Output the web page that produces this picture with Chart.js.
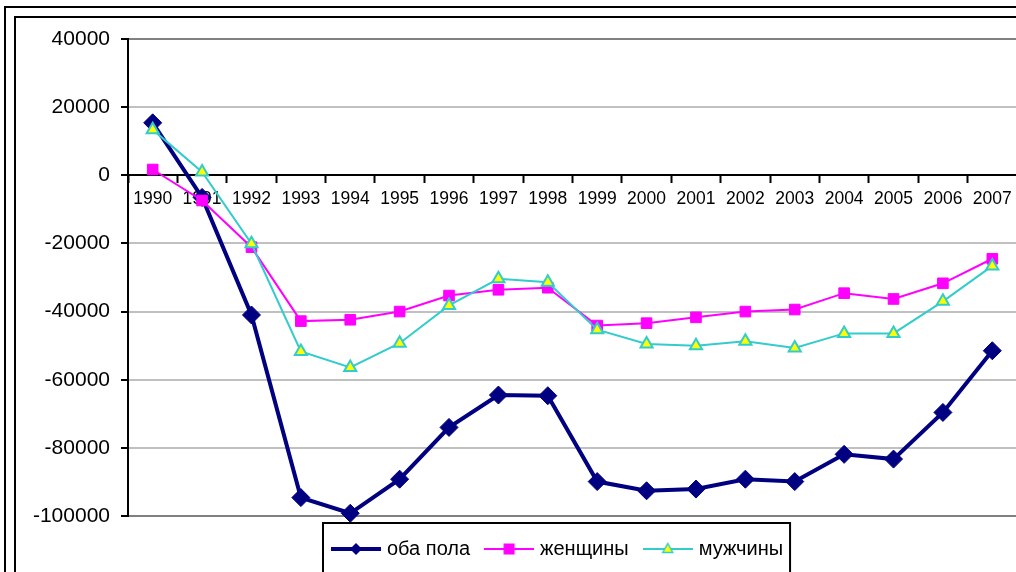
<!DOCTYPE html>
<html>
<head>
<meta charset="utf-8">
<script src="https://cdn.jsdelivr.net/npm/chart.js@4.4.0/dist/chart.umd.min.js"></script>
<style>
    html, body { margin: 0; padding: 0; background: #fff; overflow: hidden; }
    #wrap { position: relative; width: 1016px; height: 572px; overflow: hidden; }
    #chart { position: absolute; left: 0; top: 0; }
</style>
</head>
<body>
<div id="wrap"><canvas id="chart" width="1040" height="600"></canvas></div>
<script>
// data
const years = ['1990', '1991', '1992', '1993', '1994', '1995', '1996', '1997', '1998',
               '1999', '2000', '2001', '2002', '2003', '2004', '2005', '2006', '2007'];
const bothSexes = [15400, -6500, -41000, -94600, -99200, -89200, -74000, -64500, -64700,
                   -89900, -92600, -92100, -89200, -89900, -81900, -83300, -69600, -51500];
const women = [1700, -7400, -21100, -42800, -42400, -40000, -35300, -33600, -33000,
               -44100, -43400, -41700, -40000, -39400, -34600, -36300, -31700, -24500];
const men = [13400, 1000, -20100, -51700, -56400, -49300, -38200, -30400, -31400,
             -45300, -49500, -50000, -48700, -50700, -46400, -46400, -37000, -26600];
const seriesNames = ['оба пола', 'женщины', 'мужчины'];
const yTicks = [-100000, -80000, -60000, -40000, -20000, 0, 20000, 40000];

const FONT = "'Liberation Sans', Arial, sans-serif";
Chart.defaults.font.family = FONT;
Chart.defaults.color = '#000';

// small canvases used as legend symbols (line with marker in the middle)
function legendIcon(lineColor, lineWidth, drawMarker) {
    const c = document.createElement('canvas');
    c.width = 50;
    c.height = 20;
    const g = c.getContext('2d');
    g.strokeStyle = lineColor;
    g.lineWidth = lineWidth;
    g.beginPath();
    g.moveTo(0, 10);
    g.lineTo(50, 10);
    g.stroke();
    drawMarker(g, 25, 10);
    return c;
}

const icons = [
    legendIcon('#000080', 4, (g, x, y) => {
        g.fillStyle = '#000080';
        g.beginPath();
        g.moveTo(x - 6, y); g.lineTo(x, y - 6); g.lineTo(x + 6, y); g.lineTo(x, y + 6);
        g.closePath();
        g.fill();
    }),
    legendIcon('#ff00ff', 2, (g, x, y) => {
        g.fillStyle = '#ff00ff';
        g.fillRect(x - 5.5, y - 5.5, 11, 11);
    }),
    legendIcon('#33cccc', 2, (g, x, y) => {
        g.fillStyle = '#ffff00';
        g.strokeStyle = '#33cccc';
        g.lineWidth = 1.5;
        g.beginPath();
        g.moveTo(x, y - 5.5); g.lineTo(x + 5, y + 3.5); g.lineTo(x - 5, y + 3.5);
        g.closePath();
        g.fill();
        g.stroke();
    })
];

// double frame around the chart (cut off at right and bottom like the picture)
const framePlugin = {
    id: 'frame',
    beforeDraw(chart) {
        const ctx = chart.ctx;
        ctx.save();
        ctx.fillStyle = '#fff';
        ctx.fillRect(0, 0, chart.width, chart.height);
        ctx.strokeStyle = '#000';
        ctx.lineWidth = 2;
        ctx.strokeRect(5, 7, chart.width + 50, chart.height + 50);
        ctx.strokeRect(15, 17, chart.width + 50, chart.height + 50);
        ctx.restore();
    }
};

// move the legend to where it sits in the picture and draw its box
const legendLeft = 335;
const legendTextY = 549;
const legendPlugin = {
    id: 'legendPlace',
    afterLayout(chart) {
        const lg = chart.legend;
        const pad = lg.options.labels.padding;
        const x0 = (lg.left + pad + lg.right - lg.lineWidths[0]) / 2;
        const dx = legendLeft - x0;
        const dy = legendTextY - (lg.top + pad + lg.options.labels.font.size / 2);
        lg.left += dx; lg.right += dx;
        lg.top += dy; lg.bottom += dy;
    },
    afterDraw(chart) {
        const hb = chart.legend.legendHitBoxes;
        if (!hb || !hb.length) return;
        const first = hb[0];
        const last = hb[hb.length - 1];
        const ctx = chart.ctx;
        ctx.save();
        ctx.strokeStyle = '#000';
        ctx.lineWidth = 2;
        const x1 = first.left - 12;
        const x2 = last.left + last.width + 7;
        ctx.strokeRect(x1, first.top - 16, x2 - x1, 60);
        ctx.restore();
    }
};

const ctx = document.getElementById('chart').getContext('2d');
new Chart(ctx, {
    type: 'line',
    data: {
        labels: years,
        datasets: [{
            label: seriesNames[0],
            data: bothSexes,
            borderColor: '#000080',
            backgroundColor: '#000080',
            borderWidth: 4,
            pointStyle: 'rectRot',
            pointRadius: 9,
            pointBorderWidth: 1,
            order: 3
        }, {
            label: seriesNames[1],
            data: women,
            borderColor: '#ff00ff',
            backgroundColor: '#ff00ff',
            borderWidth: 2,
            pointStyle: 'rect',
            pointRadius: 7.5,
            pointBorderWidth: 1,
            order: 2
        }, {
            label: seriesNames[2],
            data: men,
            borderColor: '#33cccc',
            backgroundColor: '#ffff00',
            pointBorderColor: '#33cccc',
            borderWidth: 2,
            pointStyle: 'triangle',
            pointRadius: 7,
            pointBorderWidth: 2,
            order: 1
        }]
    },
    options: {
        responsive: false,
        animation: false,
        clip: false,
        layout: {
            padding: { left: 0, right: 23, top: 39, bottom: 36 }
        },
        elements: {
            line: { tension: 0 }
        },
        scales: {
            x: {
                type: 'category',
                position: { y: 0 },
                offset: true,
                grid: {
                    offset: true,
                    drawOnChartArea: false,
                    drawTicks: true,
                    tickLength: 7,
                    tickWidth: 2,
                    tickColor: '#000'
                },
                border: { color: '#000', width: 2 },
                ticks: {
                    font: { size: 17.5 },
                    color: '#000',
                    padding: 6,
                    maxRotation: 0,
                    autoSkip: false
                }
            },
            y: {
                min: yTicks[0],
                max: yTicks[yTicks.length - 1],
                afterBuildTicks: (scale) => {
                    scale.ticks = yTicks.map(v => ({ value: v }));
                },
                afterFit: (scale) => {
                    scale.width = 128;
                },
                grid: {
                    color: (c) => {
                        const v = c.tick ? c.tick.value : null;
                        if (v === 0) return '#000';
                        if (v === yTicks[0] || v === yTicks[yTicks.length - 1]) return '#808080';
                        return '#c0c0c0';
                    },
                    lineWidth: 2,
                    tickLength: 7,
                    tickColor: '#000'
                },
                border: { color: '#000', width: 2 },
                ticks: {
                    font: { size: 21 },
                    color: '#000',
                    padding: 11,
                    autoSkip: false,
                    callback: (v) => String(v)
                }
            }
        },
        plugins: {
            legend: {
                display: true,
                position: 'bottom',
                labels: {
                    usePointStyle: true,
                    pointStyleWidth: 42,
                    padding: 18,
                    color: '#000',
                    font: { size: 20 },
                    generateLabels: (chart) => chart.data.datasets.map((ds, i) => ({
                        text: ds.label,
                        pointStyle: icons[i],
                        fillStyle: ds.backgroundColor,
                        strokeStyle: ds.borderColor,
                        lineWidth: 0,
                        hidden: false,
                        fontColor: '#000',
                        datasetIndex: i
                    }))
                }
            },
            tooltip: { enabled: false }
        }
    },
    plugins: [framePlugin, legendPlugin]
});
</script>
</body>
</html>
